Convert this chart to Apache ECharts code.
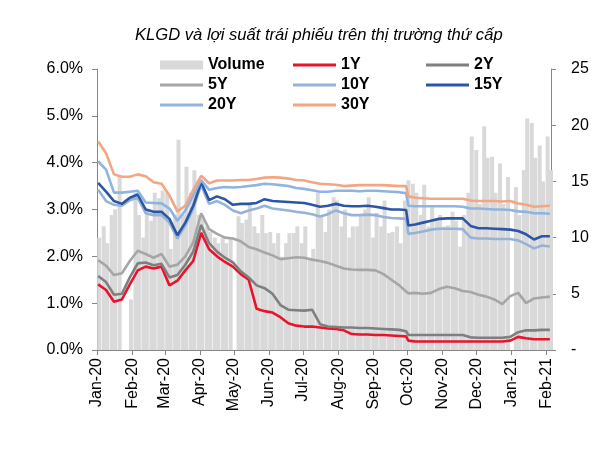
<!DOCTYPE html>
<html><head><meta charset="utf-8">
<script src="https://cdn.jsdelivr.net/npm/echarts@6/dist/echarts.min.js"></script>
<style>html,body{margin:0;padding:0;background:#fff}#c{width:600px;height:450px}</style>
</head><body><div id="c"></div>
<script>
const dates = ['2020-01-02','2020-01-09','2020-01-16','2020-01-23','2020-01-30','2020-02-06','2020-02-13','2020-02-20','2020-02-27','2020-03-05','2020-03-12','2020-03-19','2020-03-26','2020-04-02','2020-04-09','2020-04-16','2020-04-23','2020-04-30','2020-05-07','2020-05-14','2020-05-21','2020-05-28','2020-06-04','2020-06-11','2020-06-18','2020-06-25','2020-07-02','2020-07-09','2020-07-16','2020-07-23','2020-07-30','2020-08-06','2020-08-13','2020-08-20','2020-08-27','2020-09-03','2020-09-10','2020-09-17','2020-09-24','2020-09-30','2020-10-02','2020-10-08','2020-10-15','2020-10-22','2020-10-29','2020-11-05','2020-11-12','2020-11-19','2020-11-26','2020-12-03','2020-12-10','2020-12-17','2020-12-24','2020-12-31','2021-01-07','2021-01-14','2021-01-21','2021-01-28','2021-02-04'];

const y1Y = [1.40,1.28,1.03,1.08,1.40,1.70,1.78,1.74,1.78,1.38,
1.48,1.70,1.90,2.50,2.15,2.00,1.88,1.78,1.62,1.50,
0.88,0.83,0.80,0.70,0.57,0.52,0.50,0.50,0.48,0.46,
0.45,0.42,0.34,0.33,0.33,0.32,0.32,0.31,0.30,0.29,
0.20,0.18,0.18,0.18,0.18,0.18,0.18,0.18,0.18,0.18,
0.18,0.18,0.18,0.20,0.28,0.25,0.23,0.23,0.23];

const y2Y = [1.58,1.45,1.18,1.20,1.55,1.85,1.87,1.81,1.84,1.55,
1.60,1.82,2.10,2.67,2.28,2.10,1.97,1.87,1.68,1.55,
1.38,1.32,1.20,0.96,0.86,0.85,0.84,0.86,0.55,0.50,
0.49,0.48,0.48,0.47,0.47,0.46,0.45,0.44,0.43,0.40,
0.32,0.32,0.32,0.32,0.32,0.32,0.32,0.32,0.27,0.26,
0.26,0.26,0.26,0.28,0.38,0.42,0.42,0.43,0.43];

const y5Y = [1.92,1.80,1.60,1.64,1.90,2.12,2.05,1.97,2.05,1.78,
1.82,2.00,2.30,2.92,2.58,2.48,2.40,2.38,2.32,2.20,
2.15,2.08,2.02,1.94,1.96,1.98,1.97,1.93,1.90,1.86,
1.80,1.74,1.72,1.71,1.71,1.70,1.62,1.50,1.38,1.25,
1.21,1.22,1.20,1.22,1.30,1.35,1.32,1.26,1.24,1.18,
1.14,1.08,0.98,1.15,1.22,1.00,1.10,1.12,1.14];

const y10Y = [3.42,3.18,3.10,3.08,3.20,3.25,2.92,2.88,2.88,2.72,
2.38,2.66,3.02,3.52,3.12,3.18,3.10,2.98,2.92,2.98,
3.02,3.08,3.02,3.00,2.98,2.95,2.93,2.90,2.85,2.90,
2.98,2.92,2.88,2.88,2.89,2.88,2.84,2.82,2.81,2.80,
2.48,2.50,2.53,2.57,2.59,2.59,2.59,2.58,2.40,2.38,
2.38,2.37,2.37,2.37,2.34,2.26,2.17,2.23,2.21];

const y15Y = [3.57,3.38,3.18,3.12,3.25,3.32,3.00,2.95,2.95,2.80,
2.45,2.72,3.08,3.58,3.20,3.28,3.22,3.10,3.12,3.12,
3.14,3.22,3.18,3.17,3.16,3.15,3.14,3.10,3.06,3.08,
3.12,3.08,3.07,3.07,3.08,3.06,3.03,3.00,3.00,2.99,
2.66,2.68,2.72,2.76,2.80,2.81,2.81,2.81,2.65,2.60,
2.60,2.59,2.58,2.57,2.54,2.47,2.36,2.43,2.43];

const y20Y = [4.03,3.85,3.36,3.36,3.38,3.40,3.15,3.14,3.13,3.02,
2.76,2.98,3.30,3.63,3.42,3.46,3.48,3.47,3.48,3.50,
3.52,3.55,3.54,3.52,3.50,3.46,3.44,3.41,3.38,3.38,
3.40,3.40,3.40,3.39,3.40,3.40,3.39,3.38,3.37,3.35,
3.08,3.07,3.07,3.07,3.07,3.07,3.07,3.06,3.02,3.02,
3.01,3.00,3.00,2.99,2.96,2.95,2.92,2.92,2.91];

const y30Y = [4.45,4.20,3.75,3.70,3.70,3.75,3.71,3.58,3.55,3.30,
2.96,3.08,3.42,3.72,3.56,3.62,3.62,3.62,3.63,3.63,
3.65,3.68,3.69,3.68,3.66,3.63,3.62,3.58,3.55,3.54,
3.53,3.50,3.51,3.52,3.52,3.52,3.52,3.51,3.50,3.50,
3.28,3.25,3.24,3.23,3.23,3.23,3.23,3.23,3.19,3.18,
3.18,3.18,3.17,3.18,3.13,3.10,3.06,3.07,3.08];

const volDates = ['2020-01-03','2020-01-07','2020-01-10','2020-01-14','2020-01-17','2020-01-21','2020-01-24','2020-01-28','2020-01-31','2020-02-04','2020-02-07','2020-02-11','2020-02-14','2020-02-18','2020-02-21','2020-02-25','2020-02-28','2020-03-03','2020-03-06','2020-03-10','2020-03-13','2020-03-17','2020-03-20','2020-03-24','2020-03-27','2020-03-31','2020-04-03','2020-04-07','2020-04-10','2020-04-14','2020-04-17','2020-04-21','2020-04-24','2020-04-28','2020-05-01','2020-05-05','2020-05-08','2020-05-12','2020-05-15','2020-05-19','2020-05-22','2020-05-26','2020-05-29','2020-06-02','2020-06-05','2020-06-09','2020-06-12','2020-06-16','2020-06-19','2020-06-23','2020-06-26','2020-06-30','2020-07-03','2020-07-07','2020-07-10','2020-07-14','2020-07-17','2020-07-21','2020-07-24','2020-07-28','2020-07-31','2020-08-04','2020-08-07','2020-08-11','2020-08-14','2020-08-18','2020-08-21','2020-08-25','2020-08-28','2020-09-01','2020-09-04','2020-09-08','2020-09-11','2020-09-15','2020-09-18','2020-09-22','2020-09-25','2020-09-29','2020-10-02','2020-10-06','2020-10-09','2020-10-13','2020-10-16','2020-10-20','2020-10-23','2020-10-27','2020-10-30','2020-11-03','2020-11-06','2020-11-10','2020-11-13','2020-11-17','2020-11-20','2020-11-24','2020-11-27','2020-12-01','2020-12-04','2020-12-08','2020-12-11','2020-12-15','2020-12-18','2020-12-22','2020-12-25','2020-12-29','2021-01-01','2021-01-05','2021-01-08','2021-01-12','2021-01-15','2021-01-19','2021-01-22','2021-01-26','2021-01-29','2021-02-02','2021-02-05'];

const volume = [10,11,9.5,12,12.5,15.5,0,0,4.5,14,12,10,12.5,11.5,14,13.5,14.2,14,9,12,18.7,12,16.3,14,16,12,12,11,10.5,10,9.5,10,9.5,10,0,11.9,11.3,11.6,13,11,10.4,12,10.4,10.5,9.5,10.4,8.3,9.5,10.4,10.4,11,9.5,11,8,9,14,11.9,10.5,12.5,13.6,13.3,11,12.5,10,11,11,12,12.5,13.6,10,12.2,11,13.3,10.4,10.5,11,9.5,13.3,15.1,14.8,14,12,14.7,11,12.7,11.5,12,11,11.1,12.3,11.5,9.2,12,14,19,17.8,13,19.9,17.1,17.2,14,16.6,13,15.4,0,14.5,12,16,20.6,20.2,17.1,18.2,15,19,16];

const monthTicks = ['2020-01-01','2020-02-01','2020-03-01','2020-04-01','2020-05-01','2020-06-01','2020-07-01','2020-08-01','2020-09-01','2020-10-01','2020-11-01','2020-12-01','2021-01-01','2021-02-01'];
const monthNames = ['Jan','Feb','Mar','Apr','May','Jun','Jul','Aug','Sep','Oct','Nov','Dec'];
const leftTicks = [0,1,2,3,4,5,6];
const rightTicks = [0,5,10,15,20,25];

function toTime(s){ const p = s.split('-'); return Date.UTC(+p[0], +p[1]-1, +p[2]); }
const FONT = '"Liberation Sans", Arial, sans-serif';
const tickVals = monthTicks.map(toTime);

const lineDefs = [
  {name:'1Y', data:y1Y, color:'#E8132C'},
  {name:'2Y', data:y2Y, color:'#7F7F7F'},
  {name:'5Y', data:y5Y, color:'#A6A6A6'},
  {name:'10Y', data:y10Y, color:'#95B3D7'},
  {name:'15Y', data:y15Y, color:'#2B56A8'},
  {name:'20Y', data:y20Y, color:'#8DB4E2'},
  {name:'30Y', data:y30Y, color:'#F4A582'}
];

const series = [{
  name:'Volume', type:'bar', yAxisIndex:1, barWidth:4,
  itemStyle:{color:'#D9D9D9'},
  data: volDates.map((d,i)=>[toTime(d), volume[i]]),
  z:1
}].concat(lineDefs.map(s=>({
  name:s.name, type:'line', yAxisIndex:0, showSymbol:false, symbol:'none',
  lineStyle:{width:2.6, color:s.color}, itemStyle:{color:s.color},
  data: dates.map((d,i)=>[toTime(d), s.data[i]]), z:2
})));

const legendPos = [
  {name:'Volume', left:160, top:57, h:9},
  {name:'1Y', left:293, top:57, h:3},
  {name:'2Y', left:426, top:57, h:3},
  {name:'5Y', left:160, top:77, h:3},
  {name:'10Y', left:293, top:77, h:3},
  {name:'15Y', left:426, top:77, h:3},
  {name:'20Y', left:160, top:97, h:3},
  {name:'30Y', left:293, top:97, h:3}
];
const legends = legendPos.map(l=>({
  data:[l.name], left:l.left, top:l.top, itemWidth:43, itemHeight:l.h, icon:'rect',
  selectedMode:false, padding:0, itemGap:0,
  textStyle:{fontSize:16, fontWeight:'bold', fontFamily:FONT, color:'#000'}
}));

const axisCol = '#868686';
const option = {
  animation:false,
  backgroundColor:'#fff',
  title:{text:'KLGD và lợi suất trái phiếu trên thị trường thứ cấp', left:130, top:22,
    textStyle:{fontSize:16.6, fontStyle:'italic', fontWeight:'normal', fontFamily:FONT, color:'#000'}},
  legend: legends,
  grid:{left:97, right:49, top:69, bottom:100, containLabel:false},
  xAxis:{type:'value', min:toTime('2020-01-01'), max:toTime('2021-02-05'),
    axisLine:{show:true, lineStyle:{color:axisCol}},
    axisTick:{show:true, customValues:tickVals, length:5, lineStyle:{color:axisCol}},
    axisLabel:{customValues:tickVals, rotate:90, margin:8, fontSize:16, fontFamily:FONT, color:'#000',
      formatter:(v)=>{const d=new Date(v); return monthNames[d.getUTCMonth()]+'-'+String(d.getUTCFullYear()).slice(2);}},
    splitLine:{show:false}},
  yAxis:[
    {type:'value', position:'left', min:leftTicks[0], max:leftTicks[leftTicks.length-1], interval:1,
      axisLine:{show:true, lineStyle:{color:axisCol}},
      axisTick:{show:true, length:5, lineStyle:{color:axisCol}},
      axisLabel:{formatter:(v)=>v.toFixed(1)+'%', fontSize:16, fontFamily:FONT, color:'#000', margin:14},
      splitLine:{show:false}},
    {type:'value', position:'right', min:rightTicks[0], max:rightTicks[rightTicks.length-1], interval:5,
      axisLine:{show:true, lineStyle:{color:axisCol}},
      axisTick:{show:true, length:5, lineStyle:{color:axisCol}},
      axisLabel:{formatter:(v)=> v===0 ? '-' : String(v), fontSize:16, fontFamily:FONT, color:'#000', margin:20},
      splitLine:{show:false}}
  ],
  series: series
};
const chart = echarts.init(document.getElementById('c'));
chart.setOption(option);
</script>
</body></html>
